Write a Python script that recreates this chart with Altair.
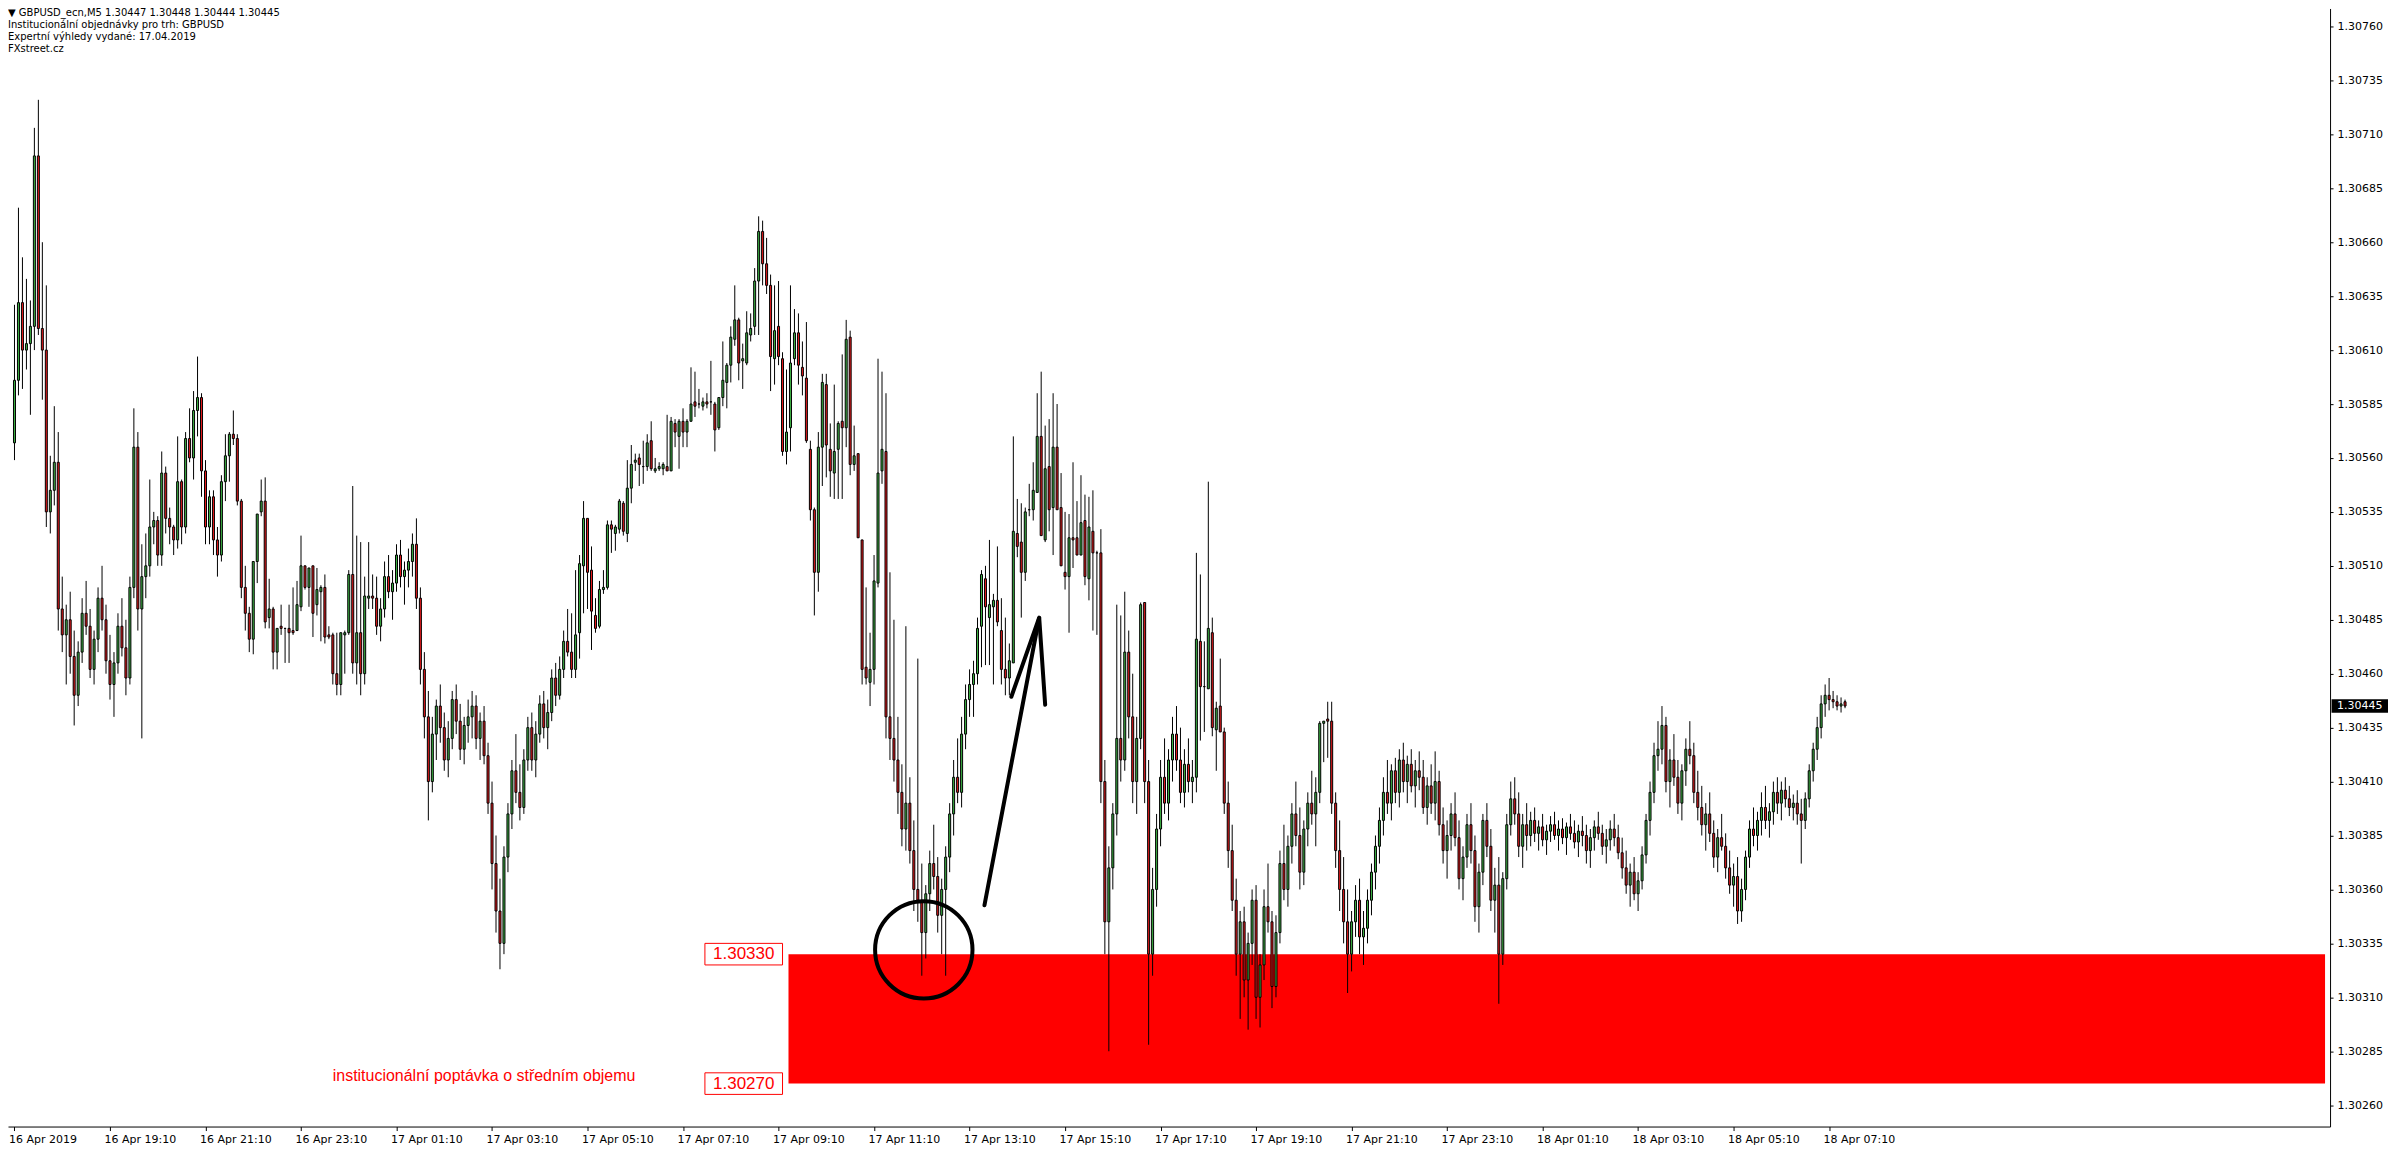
import altair as alt
import pandas as pd

# ---------------- data (prices in 1e-5 above 1.30000) ----------------
BASE = 1.30000
opens = [
567,596,632,610,613,621,700,620,610,535,
545,558,490,478,485,468,450,470,488,482,
462,476,495,485,466,455,465,482,472,458,
500,565,490,505,510,528,531,515,553,532,
528,522,549,528,569,560,582,588,554,528,
542,522,515,549,561,571,569,540,500,488,
476,512,535,540,486,490,470,482,481,481,
480,480,491,510,500,510,492,498,500,478,
478,460,455,478,479,506,465,479,460,495,
496,495,482,490,505,498,502,515,505,508,
512,520,495,462,440,410,432,445,435,420,
430,448,438,425,436,440,445,430,438,422,
400,372,350,335,375,395,415,405,398,420,
435,420,432,446,435,442,458,450,462,475,
470,462,479,510,532,508,487,482,499,500,
529,525,527,539,525,546,558,560,556,556,
568,554,555,555,556,554,576,570,577,572,
577,586,585,584,586,586,585,574,588,595,
603,615,624,605,604,617,621,642,665,650,
640,606,621,606,563,574,606,618,602,597,
564,536,507,565,594,564,553,564,577,574,
616,557,562,522,463,456,462,502,554,563,
440,430,420,405,388,400,378,360,355,340,
358,372,366,348,360,375,395,412,405,432,
448,455,460,482,504,486,491,494,480,462,
458,465,525,521,507,536,536,544,570,522,
556,537,565,537,507,505,523,523,515,531,
504,526,516,516,410,345,370,395,430,420,
470,440,410,430,493,410,330,360,388,412,
400,420,432,420,405,418,410,412,475,454,
453,479,434,445,433,400,378,355,330,345,
318,335,355,310,325,352,345,315,340,372,
360,380,395,385,368,388,400,395,405,437,
439,438,400,378,360,345,330,345,355,338,
342,355,368,380,392,405,400,415,405,420,
410,418,408,415,412,398,408,400,410,390,
378,385,395,384,365,375,390,378,352,368,
392,380,355,362,330,365,390,402,395,380,
390,385,392,386,389,383,387,390,385,388,
384,389,386,382,387,385,378,384,389,386,
380,383,388,384,377,370,362,368,358,364,
376,392,405,422,425,436,410,420,412,400,
415,425,422,405,398,390,395,386,375,384,
380,370,362,366,350,360,375,388,385,392,
398,392,396,405,400,406,402,398,400,395,
392,402,415,425,435,446,450,448,447,445,
447]
highs = [
631,676,653,643,633,713,726,660,640,561,
584,572,505,492,498,480,475,495,503,490,
480,500,510,492,478,470,488,495,485,505,
583,572,520,525,550,535,533,563,556,537,
529,570,550,572,583,591,607,590,559,545,
545,528,552,571,572,582,571,541,510,491,
512,534,550,551,504,491,481,492,481,492,
500,503,524,510,509,510,509,501,506,482,
479,479,479,480,508,547,524,521,505,521,
506,505,495,512,515,508,520,522,512,518,
525,532,500,470,452,440,448,455,442,438,
452,455,446,440,448,452,450,442,445,428,
410,385,365,380,400,420,432,418,425,440,
442,438,450,452,448,462,465,468,480,490,
488,508,515,540,532,519,495,503,508,531,
531,529,541,540,559,566,562,562,568,571,
577,560,558,558,580,579,578,578,583,578,
602,600,592,588,590,605,586,588,614,604,
621,640,625,613,628,627,648,672,670,662,
645,640,642,609,601,640,629,627,614,623,
568,537,572,599,599,576,594,577,608,624,
619,575,562,522,500,479,515,606,600,590,
507,485,440,418,482,412,392,467,372,362,
378,390,375,365,380,400,420,430,440,455,
462,466,486,508,510,522,497,519,495,486,
474,570,541,539,537,548,558,590,600,575,
578,590,585,553,535,534,558,540,552,543,
542,545,517,527,420,380,400,492,487,498,
480,460,440,493,493,420,370,395,420,430,
425,440,445,435,425,430,420,516,506,475,
549,486,447,467,435,410,390,365,350,352,
340,360,362,330,360,372,350,348,378,390,
385,400,410,398,392,405,415,412,438,438,
447,447,405,392,375,360,350,362,365,350,
360,372,385,398,412,420,418,421,425,428,
422,425,420,424,420,412,418,424,415,398,
392,400,405,392,380,395,400,385,372,395,
400,388,370,375,368,395,410,412,405,395,
400,396,398,392,395,390,394,396,392,393,
391,395,392,390,394,390,388,392,396,390,
388,392,395,390,384,378,372,375,368,380,
395,410,428,438,445,440,425,432,420,418,
430,438,428,415,408,400,405,392,388,395,
386,378,372,375,365,378,392,398,396,405,
408,400,410,412,410,412,408,404,406,402,
405,418,428,440,450,455,458,452,450,449,
448]
lows = [
559,589,592,601,580,610,617,587,528,525,
538,480,470,455,460,436,445,465,478,458,
455,470,480,460,448,440,460,468,450,455,
495,480,430,495,505,520,510,510,525,520,
515,518,520,525,558,550,570,542,520,520,
515,505,512,540,549,566,538,495,480,470,
469,502,533,481,481,462,462,478,465,465,
478,480,489,499,491,477,487,475,474,476,
455,450,450,460,478,460,455,450,455,490,
490,478,475,486,495,485,498,500,492,500,
505,490,455,430,392,405,420,428,415,412,
425,432,420,418,428,430,425,420,418,395,
360,340,323,330,368,388,400,392,395,415,
415,412,428,430,425,438,445,448,458,468,
458,458,467,488,490,471,479,481,497,499,
516,517,525,524,521,539,554,547,548,554,
554,553,554,552,554,554,565,555,565,565,
577,579,583,582,583,580,563,573,584,583,
595,612,596,592,603,614,617,617,640,636,
591,594,603,561,557,563,603,594,589,567,
531,487,498,547,551,542,541,541,541,565,
552,554,523,455,455,445,455,500,548,430,
420,410,395,380,378,372,350,345,320,328,
350,360,340,330,320,368,385,400,398,425,
440,440,455,463,464,464,455,482,455,450,
450,465,514,486,503,533,531,544,524,521,
526,515,536,510,499,479,509,515,515,501,
494,480,478,400,330,285,360,385,410,415,
430,400,395,425,400,288,320,352,380,395,
392,410,415,400,398,405,400,405,429,433,
453,431,415,433,395,370,350,320,300,310,
295,325,300,296,318,340,305,310,335,355,
352,372,380,360,362,380,390,380,400,419,
421,395,370,350,335,312,322,338,330,325,
335,348,360,372,385,395,392,400,398,405,
400,405,398,406,395,390,395,392,385,372,
365,378,380,360,355,370,372,345,340,362,
375,350,340,307,325,360,385,390,375,370,
378,380,382,378,380,376,382,383,378,381,
376,383,379,375,380,372,370,378,383,376,
372,378,380,374,365,358,352,355,350,360,
372,385,400,415,418,405,398,408,395,392,
408,418,400,392,385,378,382,370,368,378,
365,358,352,344,345,355,370,380,378,385,
388,384,390,395,392,398,394,392,390,372,
388,398,410,420,430,440,443,444,443,442,
444]
closes = [
596,632,610,613,621,700,620,610,535,545,
558,490,478,485,468,450,470,488,482,462,
476,495,485,466,455,465,482,472,458,500,
565,490,505,510,528,531,515,553,532,528,
522,549,528,569,560,582,588,554,528,542,
522,515,549,561,571,569,540,500,488,476,
512,534,540,484,490,470,481,481,481,479,
479,492,510,500,509,488,499,500,477,477,
460,455,479,479,506,465,479,460,496,496,
495,482,490,505,498,502,515,505,508,512,
520,495,462,440,410,432,445,435,420,430,
448,438,425,436,440,445,430,438,422,400,
372,350,335,375,395,415,405,398,420,435,
420,432,446,435,442,458,450,462,475,470,
462,478,511,532,507,489,481,499,500,529,
527,528,540,526,546,557,559,557,556,567,
555,555,556,557,554,577,572,577,572,577,
585,584,585,586,585,586,573,588,596,603,
616,624,604,606,618,620,642,665,650,640,
607,619,607,563,572,604,618,603,598,568,
536,507,565,595,566,554,563,576,574,615,
557,561,523,462,458,462,503,553,564,440,
430,420,405,388,400,378,360,355,340,358,
372,366,348,360,375,395,412,405,432,448,
455,460,481,506,491,492,494,484,462,458,
466,526,519,507,535,536,545,570,524,555,
536,565,536,510,505,523,522,515,530,505,
528,516,516,410,345,370,395,430,420,470,
440,410,430,492,410,330,360,388,412,400,
420,432,420,405,418,410,412,476,454,454,
481,435,444,433,400,378,355,330,345,318,
335,355,310,325,352,345,315,340,372,360,
380,395,385,368,388,400,395,405,437,438,
438,400,378,360,345,330,345,355,338,342,
355,368,380,392,405,400,415,405,420,410,
418,408,415,412,398,408,400,410,390,378,
385,395,384,365,375,390,378,352,368,392,
380,355,362,330,365,390,402,395,380,390,
385,392,386,389,383,387,390,385,388,384,
389,386,382,387,385,378,384,389,386,380,
383,388,384,377,370,362,368,358,364,376,
392,405,422,425,436,410,420,412,400,415,
425,422,405,398,390,395,386,375,384,380,
370,362,366,350,360,375,388,385,392,398,
392,396,405,400,406,402,398,400,395,392,
402,415,425,435,446,450,448,447,445,446,
445]

time_labels = ["16 Apr 2019", "16 Apr 19:10", "16 Apr 21:10", "16 Apr 23:10",
               "17 Apr 01:10", "17 Apr 03:10", "17 Apr 05:10", "17 Apr 07:10",
               "17 Apr 09:10", "17 Apr 11:10", "17 Apr 13:10", "17 Apr 15:10",
               "17 Apr 17:10", "17 Apr 19:10", "17 Apr 21:10", "17 Apr 23:10",
               "18 Apr 01:10", "18 Apr 03:10", "18 Apr 05:10", "18 Apr 07:10"]
BARS_PER_LABEL = 24
price_ticks = [1.30260, 1.30285, 1.30310, 1.30335, 1.30360, 1.30385, 1.30410,
               1.30435, 1.30460, 1.30485, 1.30510, 1.30535, 1.30560, 1.30585,
               1.30610, 1.30635, 1.30660, 1.30685, 1.30710, 1.30735, 1.30760]

header_lines = ["\u25bc  GBPUSD_ecn,M5  1.30447 1.30448 1.30444 1.30445",
                "Institucionální objednávky pro trh: GBPUSD",
                "Expertní výhledy vydané: 17.04.2019",
                "FXstreet.cz"]

zone_top, zone_bottom = 1.30330, 1.30270
zone_start_bar = 194.5
zone_label = "institucionální poptávka o středním objemu"
zone_label_pos = (118.0, 1.302734)
tag_bars = (173.5, 193.0)
current_price = 1.30445
circle_pos = (228.5, 1.30332)
arrow_bars = [243.75, 257.5, 250.5, 257.5, 259.0]
arrow_prices = [1.303527, 1.304860, 1.304493, 1.304860, 1.304456]
arrow_seg = [0, 0, 1, 1, 1]

# ---------------- build ----------------
W, H = 2324, 1119
X_DOM = [-0.375, -0.375 + W / 4.0]
Y_DOM = [1.3025010, 1.3076834]
FONT = "DejaVu Sans"
GREEN, RED = "#3cb043", "#e41a1c"

n = len(closes)
df = pd.DataFrame({
    "i": list(range(n)),
    "o": [BASE + v / 1e5 for v in opens],
    "h": [BASE + v / 1e5 for v in highs],
    "l": [BASE + v / 1e5 for v in lows],
    "c": [BASE + v / 1e5 for v in closes],
})
df["fill"] = [GREEN if c >= o else RED for o, c in zip(opens, closes)]

xs = alt.Scale(domain=X_DOM, nice=False, zero=False)
ys = alt.Scale(domain=Y_DOM, nice=False, zero=False)

label_arr = "[" + ",".join("'%s'" % s for s in time_labels) + "]"
x_axis = alt.Axis(values=[k * BARS_PER_LABEL for k in range(len(time_labels))],
                  labelExpr=label_arr + "[round(datum.value/%d)]" % BARS_PER_LABEL,
                  labelAlign="left", labelBaseline="top", labelPadding=3, labelOffset=-6,
                  labelFont=FONT, labelFontSize=11, labelColor="black",
                  tickSize=4, tickColor="black", domainColor="black",
                  grid=False, title=None, labelOverlap=False, labelFlush=False)
y_axis = alt.Axis(orient="right", values=price_ticks, format=".5f",
                  labelAlign="left", labelBaseline="middle", labelPadding=4,
                  labelFont=FONT, labelFontSize=11, labelColor="black",
                  tickSize=3, tickColor="black", domainColor="black",
                  grid=False, title=None, labelOverlap=False, labelFlush=False)


def X(f):
    return alt.X(f, type="quantitative", scale=xs, axis=x_axis)


def Y(f):
    return alt.Y(f, type="quantitative", scale=ys, axis=y_axis)


zone_df = pd.DataFrame({"x1": [zone_start_bar], "x2": [X_DOM[1]],
                        "y1": [zone_bottom], "y2": [zone_top]})
zone = alt.Chart(zone_df).mark_rect(color="#ff0000").encode(
    x=X("x1"), x2="x2", y=Y("y1"), y2="y2")

wicks = alt.Chart(df).mark_rule(color="black", strokeWidth=1).encode(
    x=X("i"), y=Y("l"), y2="h")
bodies = alt.Chart(df).mark_bar(size=2, stroke="black", strokeWidth=1).encode(
    x=X("i"), y=Y("o"), y2="c", fill=alt.Fill("fill:N", scale=None))

tags_df = pd.DataFrame({
    "x1": [tag_bars[0]] * 2, "x2": [tag_bars[1]] * 2,
    "y1": [zone_top - 0.00005, zone_bottom - 0.00005],
    "y2": [zone_top + 0.00005, zone_bottom + 0.00005],
    "xm": [(tag_bars[0] + tag_bars[1]) / 2] * 2,
    "ym": [zone_top, zone_bottom],
    "t": ["%.5f" % zone_top, "%.5f" % zone_bottom]})
tag_boxes = alt.Chart(tags_df).mark_rect(fill="white", stroke="#ff0000", strokeWidth=1).encode(
    x=X("x1"), x2="x2", y=Y("y1"), y2="y2")
tag_text = alt.Chart(tags_df).mark_text(color="#ff0000", font="Liberation Sans", fontSize=17,
                                        align="center", baseline="middle").encode(
    x=X("xm"), y=Y("ym"), text="t:N")

zl_df = pd.DataFrame({"x": [zone_label_pos[0]], "y": [zone_label_pos[1]], "t": [zone_label]})
zone_text = alt.Chart(zl_df).mark_text(color="#ff0000", font="Liberation Sans", fontSize=16,
                                       align="center", baseline="middle").encode(
    x=X("x"), y=Y("y"), text="t:N")

circ_df = pd.DataFrame({"x": [circle_pos[0]], "y": [circle_pos[1]]})
circle = alt.Chart(circ_df).mark_point(shape="circle", filled=False, size=9503,
                                       color="black", strokeWidth=4, opacity=1).encode(
    x=X("x"), y=Y("y"))

arr_df = pd.DataFrame({"x": arrow_bars, "y": arrow_prices, "seg": arrow_seg,
                       "ord": list(range(len(arrow_bars)))})
arrow = alt.Chart(arr_df).mark_line(color="black", strokeWidth=4, strokeCap="round").encode(
    x=X("x"), y=Y("y"), detail="seg:N", order="ord:Q")

hdr_df = pd.DataFrame({"t": ["\n".join(header_lines)]})
header = alt.Chart(hdr_df).mark_text(align="left", baseline="top", font=FONT, fontSize=10,
                                     lineBreak="\n", lineHeight=12, color="black").encode(
    x=alt.value(0), y=alt.value(0), text="t:N")

cp_df = pd.DataFrame({"y1": [current_price - 0.000031], "y2": [current_price + 0.000031],
                      "y": [current_price], "t": ["%.5f" % current_price]})
cp_box = alt.Chart(cp_df).mark_rect(fill="black").encode(
    x=alt.value(W + 1.5), x2=alt.value(W + 58), y=Y("y1"), y2="y2")
cp_text = alt.Chart(cp_df).mark_text(align="left", baseline="middle", font=FONT, fontSize=11,
                                     color="white").encode(
    x=alt.value(W + 7), y=Y("y"), text="t:N")

chart = alt.layer(zone, wicks, bodies, tag_boxes, tag_text, zone_text, circle, arrow,
                  header, cp_box, cp_text).properties(
    width=W, height=H, padding=0, background="white"
).configure_view(stroke=None)

chart.save("out.html", embed_options={"renderer": "svg", "actions": False})
